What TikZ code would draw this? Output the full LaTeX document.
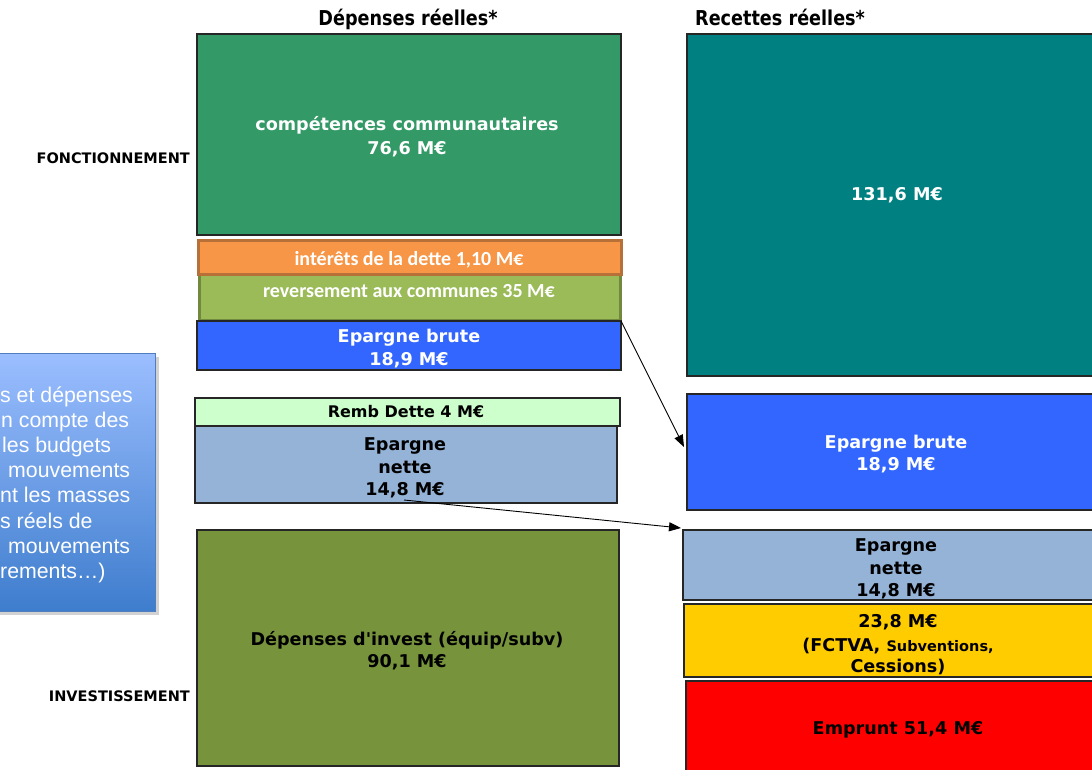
\documentclass[tikz,border=0pt]{standalone}
\usepackage{fontspec}
\setmainfont{DejaVu Sans}[Ligatures=TeXOff]
\newfontfamily\calib{Carlito}
\newfontfamily\arialf{Liberation Sans}
\newfontfamily\condf{DejaVu Sans}[FakeStretch=0.86]
\usetikzlibrary{arrows.meta,shadows}
\definecolor{boxline}{RGB}{38,38,38}
\definecolor{cgreen}{RGB}{51,153,102}
\definecolor{corange}{RGB}{247,150,70}
\definecolor{corangeb}{RGB}{183,112,55}
\definecolor{colive}{RGB}{155,187,89}
\definecolor{coliveb}{RGB}{113,137,63}
\definecolor{cblue}{RGB}{51,102,255}
\definecolor{cmint}{RGB}{204,255,204}
\definecolor{cgrey}{RGB}{149,179,215}
\definecolor{cinv}{RGB}{119,147,60}
\definecolor{cteal}{RGB}{0,128,128}
\definecolor{cyellow}{RGB}{255,204,0}
\definecolor{cred}{RGB}{255,0,0}
\definecolor{calltop}{RGB}{155,190,255}
\definecolor{callbot}{RGB}{62,125,205}
\definecolor{callline}{RGB}{80,125,190}
\begin{document}
\begin{tikzpicture}[x=1pt,y=-1pt,
  box/.style={draw=boxline, line width=1.2pt, inner sep=0pt, outer sep=0pt, anchor=north west},
  thickbox/.style={line width=3pt, inner sep=0pt, outer sep=0pt, anchor=north west},
  wt/.style={anchor=base, inner sep=0pt, text=white, font=\bfseries\fontsize{17.6}{20}\selectfont},
  bt/.style={anchor=base, inner sep=0pt, text=black, font=\bfseries\fontsize{17.6}{20}\selectfont},
  ct/.style={anchor=base, inner sep=0pt, text=white, font=\calib\bfseries\fontsize{20}{23}\selectfont},
  side/.style={anchor=base east, inner sep=0pt, font=\bfseries\fontsize{14.5}{17}\selectfont},
  head/.style={inner sep=0pt, font=\condf\bfseries\fontsize{20.5}{23}\selectfont},
  callt/.style={anchor=base west, inner sep=0pt, text=white, font=\arialf\fontsize{21.3}{24}\selectfont},
  arr/.style={-{Triangle[length=12pt,width=9pt]}, line width=0.9pt, black}]
\clip (0,0) rectangle (1092,769);
\fill[white] (0,0) rectangle (1092,769);

% callout
\node[draw=callline, line width=1pt, top color=calltop, bottom color=callbot,
  minimum width=185pt, minimum height=258pt, inner sep=0pt, anchor=north west,
  drop shadow={shadow xshift=3pt, shadow yshift=-3pt, opacity=0.35}] (call) at (-30,353) {};
\node[callt] (c1) at (0,402) {s et dépenses};
\node[callt] (c2) at (1,427) {n compte des};
\node[callt] (c3) at (2,452) {les budgets};
\node[callt] (c4) at (8,477) {mouvements};
\node[callt] (c5) at (0,502) {nt les masses};
\node[callt] (c6) at (0,528) {s réels de};
\node[callt] (c7) at (8,553) {mouvements};
\node[callt] (c8) at (0,578) {rements…)};

% headings
\node[head, anchor=base] (h1) at (408,25) {Dépenses réelles*};
\node[head, anchor=base west] (h2) at (695,25) {Recettes réelles*};
\node[side] (fonc) at (190,163) {FONCTIONNEMENT};
\node[side] (inve) at (190,701) {INVESTISSEMENT};

% left column
\node[box, fill=cgreen, minimum width=424pt, minimum height=201pt] (gtop) at (197,34) {};
\node[thickbox, draw=coliveb, fill=colive, minimum width=421pt, minimum height=46pt] (vert) at (199,274) {};
\node[thickbox, draw=corangeb, fill=corange, minimum width=423pt, minimum height=34pt] (orng) at (198,240) {};
\node[box, fill=cblue, minimum width=424pt, minimum height=49pt] (ebL) at (197,321) {};
\node[box, fill=cmint, minimum width=425pt, minimum height=28pt] (remb) at (195,398) {};
\node[box, fill=cgrey, minimum width=422pt, minimum height=77pt] (enL) at (195,426) {};
\node[box, fill=cinv, minimum width=422pt, minimum height=236pt] (inv) at (197,530) {};

% right column
\node[box, fill=cteal, minimum width=420pt, minimum height=342pt] (teal) at (687,34) {};
\node[box, fill=cblue, minimum width=420pt, minimum height=116pt] (ebR) at (687,394) {};
\node[box, fill=cgrey, minimum width=420pt, minimum height=70pt] (enR) at (683,530) {};
\node[box, fill=cyellow, minimum width=420pt, minimum height=73pt] (jaune) at (684,604) {};
\node[box, fill=cred, minimum width=420pt, minimum height=100pt] (rouge) at (686,681) {};

% texts left
\node[wt] (t1) at (407,130) {compétences communautaires};
\node[wt] (t2) at (407,154) {76,6 M€};
\node[ct] (t3) at (409,265) {intérêts de la dette 1,10 M€};
\node[ct] (t4) at (409,297) {reversement aux communes 35 M€};
\node[wt] (t5) at (409,342) {Epargne brute};
\node[wt] (t6) at (409,365) {18,9 M€};
\node[bt, font=\bfseries\fontsize{16}{18}\selectfont] (t7) at (406,417) {Remb Dette 4 M€};
\node[bt] (t8) at (405,450) {Epargne};
\node[bt] (t9) at (405,473) {nette};
\node[bt] (t10) at (405,495) {14,8 M€};
\node[bt] (t11) at (407,645) {Dépenses d'invest (équip/subv)};
\node[bt] (t12) at (407,667) {90,1 M€};

% texts right
\node[wt] (t13) at (897,200) {131,6 M€};
\node[wt] (t14) at (896,448) {Epargne brute};
\node[wt] (t15) at (896,470) {18,9 M€};
\node[bt] (t16) at (896,551) {Epargne};
\node[bt] (t17) at (896,574) {nette};
\node[bt] (t18) at (896,596) {14,8 M€};
\node[bt] (t19) at (898,627) {23,8 M€};
\node[bt] (t20) at (898,651) {(FCTVA, {\fontsize{14.5}{16}\selectfont Subventions,}};
\node[bt] (t21) at (898,672) {Cessions)};
\node[bt] (t22) at (898,734) {Emprunt 51,4 M€};

% connectors
\draw[arr] (ebL.north east) -- ([xshift=-3pt,yshift=5pt]ebR.west);
\draw[arr] ([xshift=-2pt,yshift=3pt]enL.south) -- ([xshift=-2pt,yshift=2pt]enR.north west);
\end{tikzpicture}
\end{document}
